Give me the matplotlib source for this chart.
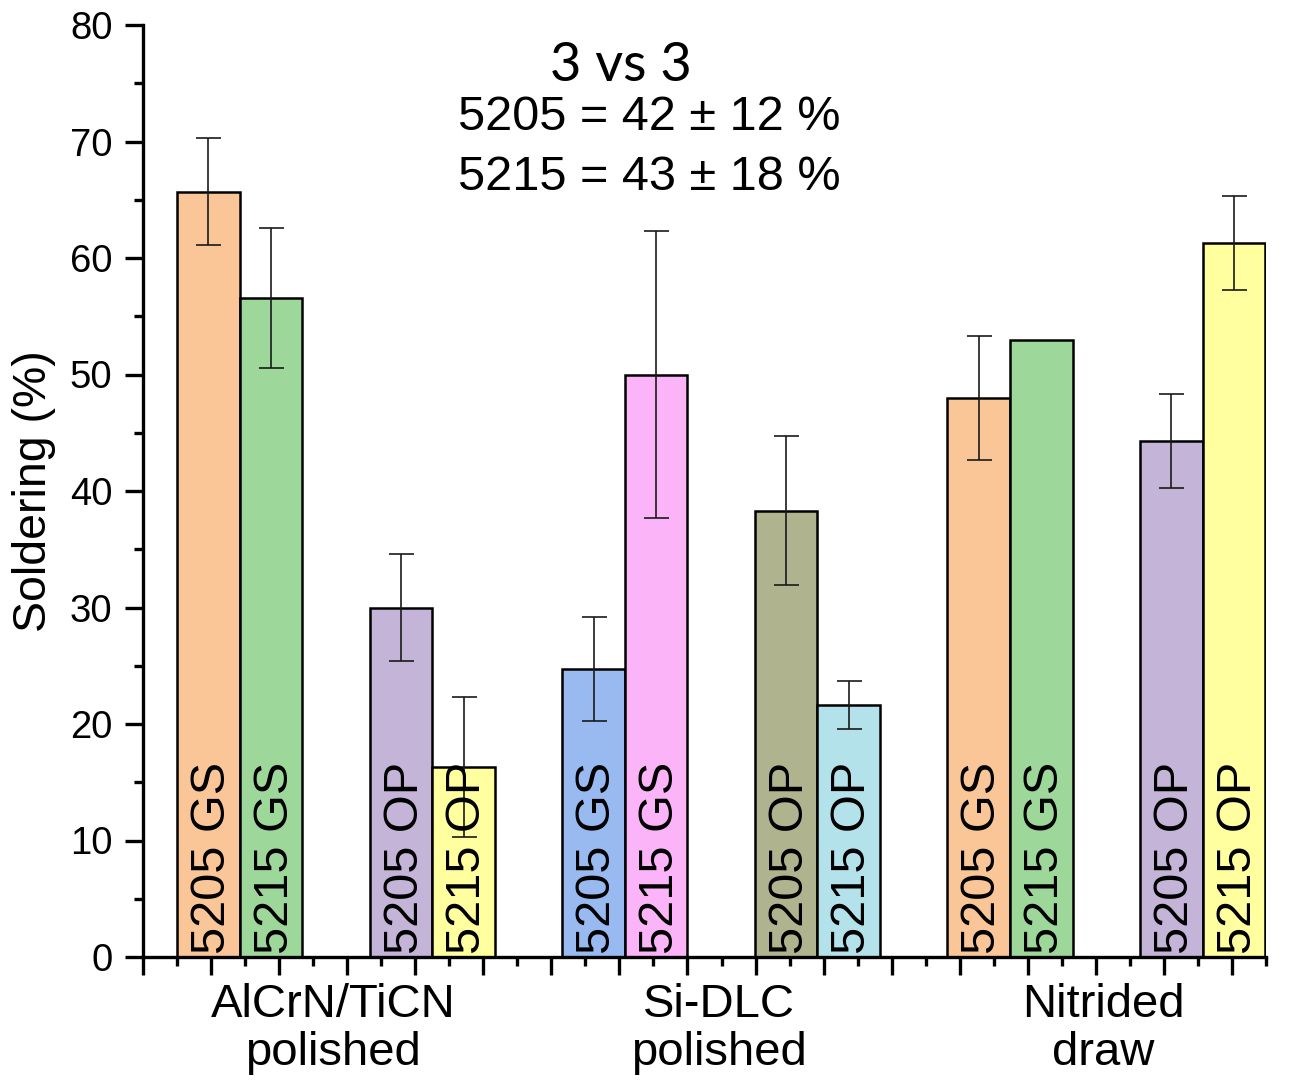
import numpy as np
import matplotlib
matplotlib.use("Agg")
import matplotlib.pyplot as plt
from matplotlib.ticker import MultipleLocator

plt.rcParams['font.family'] = ['Liberation Sans', 'DejaVu Sans']

groups = ["AlCrN/TiCN\npolished", "Si-DLC\npolished", "Nitrided\ndraw"]
bar_labels = ["5205 GS", "5215 GS", "5205 OP", "5215 OP"]
soldering = [
    [65.7, 56.6, 30.0, 16.3],
    [24.75, 50.0, 38.3, 21.65],
    [48.0, 53.0, 44.3, 61.3],
]
errors = [
    [4.6, 6.0, 4.6, 6.0],
    [4.45, 12.3, 6.4, 2.05],
    [5.3, 0.0, 4.0, 4.05],
]
colors = [
    ["#FAC698", "#9DD89A", "#C4B4D8", "#FFFFA0"],
    ["#99BAF0", "#FAB4F7", "#B0B48E", "#B3E2EA"],
    ["#FAC698", "#9DD89A", "#C4B4D8", "#FFFFA0"],
]

W, H = 1293, 1089
fig = plt.figure(figsize=(W / 100, H / 100), dpi=100)
ax = fig.add_axes([143 / W, 1 - 957 / H, (1266 - 143) / W, (957 - 25) / H])

width = 0.92
pair_step = 2.83
for g in range(len(groups)):
    centers = []
    for j in range(4):
        pair = g * 2 + j // 2
        x = 0.5 + pair * pair_step + width / 2 + (j % 2) * width
        centers.append(x)
        ax.bar(x, soldering[g][j], width=width, color=colors[g][j],
               edgecolor="black", linewidth=1.8, zorder=2)
        if errors[g][j] > 0:
            ax.errorbar(x, soldering[g][j], yerr=errors[g][j], fmt="none",
                        ecolor="#1a1a1a", elinewidth=1.2, capsize=9,
                        capthick=1.2, zorder=3)
        ax.annotate(bar_labels[j], xy=(x, 0.3), xytext=(3, 0),
                    textcoords="offset points", rotation=90,
                    rotation_mode="anchor", ha="left", va="center",
                    fontsize=35, zorder=4)
    ax.annotate(groups[g], xy=(np.mean(centers), 0), xycoords=("data", "axes fraction"),
                xytext=(-2, -19), textcoords="offset points",
                ha="center", va="top", fontsize=34, linespacing=1.12)

ax.set_xlim(0, 16.5)
ax.set_ylim(0, 80)
ax.xaxis.set_major_locator(MultipleLocator(1))
ax.xaxis.set_minor_locator(MultipleLocator(0.5))
ax.yaxis.set_major_locator(MultipleLocator(10))
ax.yaxis.set_minor_locator(MultipleLocator(5))
ax.set_xticklabels([])
ax.tick_params(axis="both", which="major", length=13, width=2.4, labelsize=27.5, pad=9)
ax.tick_params(axis="both", which="minor", length=6.5, width=2.4)
for s in ["top", "right"]:
    ax.spines[s].set_visible(False)
for s in ["left", "bottom"]:
    ax.spines[s].set_linewidth(2.4)
ax.set_ylabel("Soldering (%)", fontsize=33.5, labelpad=10)

fig.text(621 / W, 1 - 81 / H, "3 vs 3", family=["Lato", "DejaVu Sans"],
         fontsize=39, ha="center", va="baseline")
fig.text(649 / W, 1 - 130 / H, "5205 = 42 ± 12 %", fontsize=35, ha="center", va="baseline")
fig.text(649 / W, 1 - 190 / H, "5215 = 43 ± 18 %", fontsize=35, ha="center", va="baseline")

fig.savefig("out.png", dpi=100)
